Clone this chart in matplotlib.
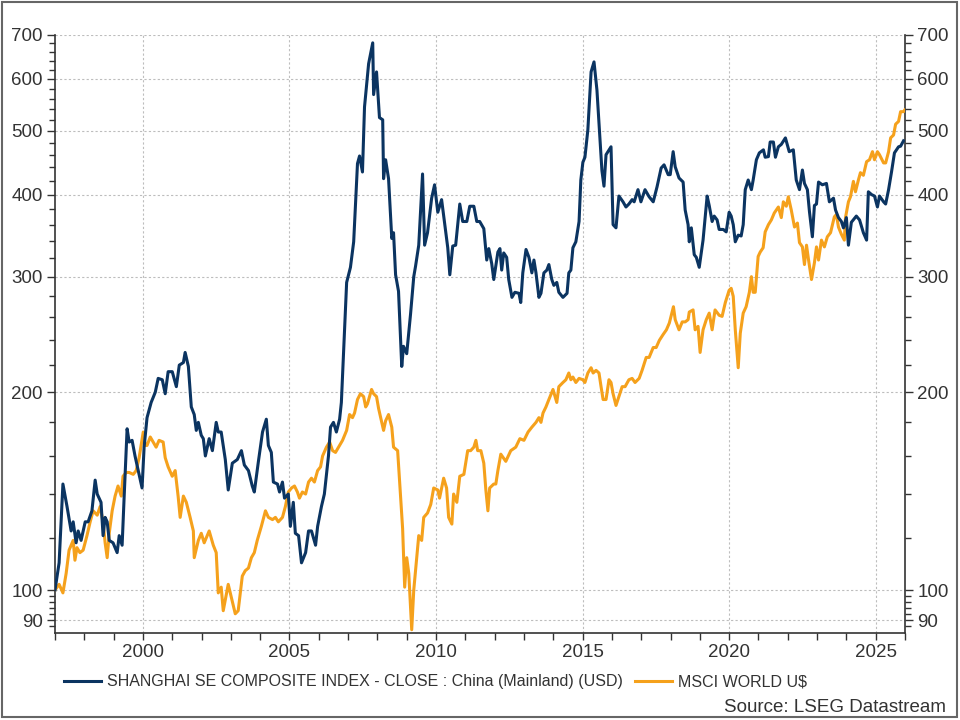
import matplotlib
matplotlib.use("Agg")
import matplotlib.pyplot as plt
from matplotlib.ticker import FixedLocator, FuncFormatter, NullFormatter, MultipleLocator
from matplotlib.patches import Rectangle

plt.rcParams['font.family'] = ['Liberation Sans', 'DejaVu Sans']

# Shanghai SE Composite (USD), rebased 100 = Jan 1997
sh_dates = [1997.00, 1997.14, 1997.27, 1997.41, 1997.55, 1997.62, 1997.72, 1997.79, 1997.89,
            1998.03, 1998.13, 1998.26, 1998.37, 1998.44, 1998.57, 1998.64, 1998.71, 1998.78, 1998.85, 1998.98,
            1999.12, 1999.19, 1999.29, 1999.36, 1999.46, 1999.53, 1999.63, 1999.73, 1999.84, 1999.97,
            2000.04, 2000.14, 2000.28, 2000.42, 2000.52, 2000.66, 2000.76, 2000.86,
            2001.00, 2001.14, 2001.24, 2001.38, 2001.44, 2001.55, 2001.65, 2001.75, 2001.82, 2001.89, 2001.99,
            2002.06, 2002.13, 2002.26, 2002.37, 2002.50, 2002.57, 2002.67, 2002.81, 2002.91,
            2003.05, 2003.22, 2003.36, 2003.46, 2003.60, 2003.73, 2003.80, 2003.94,
            2004.08, 2004.21, 2004.28, 2004.38, 2004.45, 2004.59, 2004.66, 2004.76, 2004.83, 2004.96,
            2005.03, 2005.13, 2005.20, 2005.31, 2005.41, 2005.55, 2005.65, 2005.75, 2005.89, 2005.96,
            2006.09, 2006.19, 2006.33, 2006.40, 2006.50, 2006.60, 2006.71, 2006.77, 2006.84, 2006.95,
            2007.08, 2007.19, 2007.32, 2007.39, 2007.49, 2007.56, 2007.70, 2007.84, 2007.87, 2007.97,
            2008.07, 2008.18, 2008.21, 2008.28, 2008.38, 2008.49, 2008.55, 2008.62, 2008.72, 2008.83, 2008.89,
            2009.00, 2009.13, 2009.24, 2009.30, 2009.41, 2009.54, 2009.61, 2009.71, 2009.85, 2009.95,
            2010.06, 2010.19, 2010.30, 2010.40, 2010.47, 2010.57, 2010.67, 2010.81, 2010.91,
            2011.05, 2011.15, 2011.29, 2011.39, 2011.49, 2011.63, 2011.73, 2011.80, 2011.90, 2011.97,
            2012.11, 2012.18, 2012.24, 2012.31, 2012.41, 2012.48, 2012.59, 2012.69, 2012.83, 2012.89, 2012.96,
            2013.07, 2013.17, 2013.27, 2013.34, 2013.41, 2013.51, 2013.58, 2013.68, 2013.78, 2013.85, 2013.95,
            2014.02, 2014.12, 2014.19, 2014.33, 2014.47, 2014.53, 2014.60, 2014.67, 2014.77, 2014.88, 2014.94,
            2015.01, 2015.08, 2015.18, 2015.29, 2015.39, 2015.49, 2015.56, 2015.66, 2015.73, 2015.80, 2015.97,
            2016.04, 2016.14, 2016.24, 2016.38, 2016.48, 2016.58, 2016.69, 2016.76, 2016.89, 2016.99,
            2017.13, 2017.27, 2017.41, 2017.54, 2017.68, 2017.78, 2017.92, 2017.99,
            2018.09, 2018.16, 2018.29, 2018.43, 2018.50, 2018.60, 2018.64, 2018.71, 2018.81, 2018.88, 2018.98,
            2019.11, 2019.25, 2019.32, 2019.42, 2019.49, 2019.59, 2019.66, 2019.80, 2019.90,
            2020.00, 2020.07, 2020.14, 2020.21, 2020.31, 2020.41, 2020.48, 2020.55, 2020.65, 2020.76, 2020.82, 2020.93,
            2021.03, 2021.17, 2021.23, 2021.34, 2021.40, 2021.51, 2021.58, 2021.68, 2021.78, 2021.92,
            2022.05, 2022.19, 2022.29, 2022.40, 2022.50, 2022.57, 2022.67, 2022.74, 2022.84, 2022.91, 2022.98,
            2023.05, 2023.18, 2023.32, 2023.42, 2023.56, 2023.63, 2023.73, 2023.83, 2023.90,
            2024.00, 2024.07, 2024.17, 2024.34, 2024.45, 2024.58, 2024.69, 2024.75, 2024.86, 2024.96,
            2025.06, 2025.13, 2025.27, 2025.34, 2025.44, 2025.54, 2025.64, 2025.78, 2025.85, 2025.95]
sh_vals = [100, 110, 145, 134, 123, 127, 118, 123, 119,
           127, 127, 132, 147, 140, 136, 121, 129, 127, 119, 118,
           114, 121, 117, 139, 176, 168, 169, 160, 152, 143,
           165, 183, 193, 200, 210, 209, 199, 215,
           215, 204, 220, 222, 230, 219, 190, 185, 175, 180, 172,
           170, 160, 170, 163, 180, 174, 174, 158, 142,
           156, 158, 163, 155, 152, 144, 141, 157,
           174, 182, 166, 162, 146, 145, 141, 146, 138, 140,
           125, 136, 122, 121, 110, 114, 123, 123, 117, 125,
           134, 140, 160, 177, 180, 174, 182, 193, 227, 294,
           310, 339, 446, 458, 433, 544, 633, 681, 568, 615,
           524, 520, 423, 452, 423, 343, 350, 302, 285, 219, 235,
           229, 263, 300, 311, 335, 430, 335, 350, 395, 414,
           376, 393, 360, 332, 302, 334, 335, 387, 364,
           364, 384, 384, 364, 364, 355, 318, 331, 314, 297,
           327, 331, 307, 326, 321, 297, 279, 284, 283, 274, 304,
           330, 321, 304, 318, 304, 279, 283, 304, 307, 313, 297,
           291, 294, 284, 279, 283, 304, 307, 332, 339, 364, 421,
           448, 456, 502, 615, 637, 577, 514, 435, 412, 460, 473,
           360, 356, 398, 390, 383, 387, 393, 390, 407, 390,
           407, 397, 390, 411, 439, 444, 429, 429,
           465, 441, 424, 418, 379, 360, 339, 356, 324, 321, 310,
           341, 398, 385, 364, 371, 366, 354, 354, 351,
           376, 371, 360, 339, 347, 346, 360, 407, 421, 407, 421, 452,
           463, 468, 456, 457, 481, 481, 456, 473, 477, 488,
           465, 468, 421, 407, 436, 416, 407, 377, 345, 385, 387,
           418, 414, 416, 390, 395, 379, 369, 364, 356,
           369, 335, 363, 371, 366, 350, 341, 404, 400, 398,
           383, 398, 390, 387, 407, 433, 463, 473, 474, 483]

# MSCI World U$, rebased 100 = Jan 1997
ms_dates = [1997.00, 1997.14, 1997.27, 1997.38, 1997.48, 1997.62, 1997.68, 1997.75, 1997.85, 1997.96,
            1998.09, 1998.20, 1998.30, 1998.44, 1998.54, 1998.64, 1998.71, 1998.78, 1998.85, 1998.95,
            1999.05, 1999.15, 1999.26, 1999.32, 1999.43, 1999.53, 1999.67, 1999.77, 1999.87,
            2000.01, 2000.08, 2000.14, 2000.25, 2000.35, 2000.45, 2000.55, 2000.69, 2000.76, 2000.86,
            2001.00, 2001.10, 2001.20, 2001.27, 2001.38, 2001.48, 2001.61, 2001.72, 2001.75, 2001.89, 2001.99,
            2002.09, 2002.26, 2002.40, 2002.50, 2002.57, 2002.67, 2002.74, 2002.91,
            2003.05, 2003.15, 2003.25, 2003.39, 2003.49, 2003.60, 2003.70, 2003.80, 2003.90,
            2004.04, 2004.18, 2004.28, 2004.42, 2004.52, 2004.62, 2004.76, 2004.86, 2004.96,
            2005.07, 2005.17, 2005.27, 2005.34, 2005.44, 2005.55, 2005.65, 2005.75, 2005.85, 2005.96,
            2006.06, 2006.13, 2006.26, 2006.37, 2006.47, 2006.57, 2006.71, 2006.81, 2006.95,
            2007.05, 2007.15, 2007.22, 2007.32, 2007.42, 2007.53, 2007.60, 2007.66, 2007.80, 2007.87, 2007.97,
            2008.04, 2008.11, 2008.21, 2008.28, 2008.38, 2008.49, 2008.55, 2008.69, 2008.76, 2008.86, 2008.93,
            2009.00, 2009.07, 2009.17, 2009.24, 2009.34, 2009.41, 2009.51, 2009.58, 2009.71, 2009.82, 2009.92,
            2010.06, 2010.12, 2010.26, 2010.36, 2010.43, 2010.54, 2010.60, 2010.71, 2010.81, 2010.95,
            2011.08, 2011.18, 2011.29, 2011.36, 2011.42, 2011.53, 2011.63, 2011.70, 2011.77, 2011.83, 2011.97,
            2012.04, 2012.11, 2012.21, 2012.38, 2012.55, 2012.72, 2012.86,
            2013.00, 2013.14, 2013.27, 2013.41, 2013.51, 2013.58, 2013.65, 2013.75, 2013.85, 2013.99,
            2014.12, 2014.19, 2014.33, 2014.43, 2014.53, 2014.60, 2014.67, 2014.77, 2014.88,
            2015.01, 2015.08, 2015.18, 2015.29, 2015.36, 2015.46, 2015.56, 2015.63, 2015.70, 2015.80, 2015.90, 2015.97,
            2016.04, 2016.14, 2016.24, 2016.35, 2016.45, 2016.58, 2016.69, 2016.79, 2016.93,
            2017.03, 2017.17, 2017.27, 2017.41, 2017.51, 2017.62, 2017.75, 2017.86, 2017.96,
            2018.10, 2018.16, 2018.29, 2018.40, 2018.50, 2018.60, 2018.64, 2018.77, 2018.84, 2018.94,
            2019.01, 2019.11, 2019.22, 2019.32, 2019.42, 2019.52, 2019.66, 2019.76, 2019.87,
            2020.00, 2020.07, 2020.14, 2020.21, 2020.31, 2020.38, 2020.48, 2020.58, 2020.69, 2020.76, 2020.82, 2020.89, 2020.99,
            2021.06, 2021.16, 2021.23, 2021.34, 2021.44, 2021.54, 2021.68, 2021.78, 2021.85, 2021.95,
            2022.02, 2022.12, 2022.23, 2022.33, 2022.40, 2022.50, 2022.57, 2022.64, 2022.71, 2022.81, 2022.91, 2022.98,
            2023.05, 2023.15, 2023.25, 2023.35, 2023.46, 2023.59, 2023.66, 2023.73, 2023.83, 2023.93, 2023.97,
            2024.07, 2024.14, 2024.24, 2024.31, 2024.41, 2024.48, 2024.58, 2024.69, 2024.79, 2024.89, 2024.96,
            2025.06, 2025.13, 2025.27, 2025.34, 2025.44, 2025.51, 2025.61, 2025.68, 2025.78, 2025.85, 2025.95, 2025.99]
ms_vals = [100, 102, 99, 106, 115, 119, 111, 116, 114, 115,
           121, 127, 132, 130, 134, 127, 118, 112, 122, 132,
           139, 144, 139, 149, 151, 151, 150, 152, 159,
           174, 166, 166, 171, 168, 165, 169, 168, 159, 154,
           149, 152, 139, 129, 139, 136, 129, 123, 112, 119, 122,
           118, 123, 117, 114, 99, 101, 93, 102,
           96, 92, 93, 105, 107, 108, 112, 114, 119,
           125, 132, 129, 128, 129, 127, 129, 134, 141,
           143, 144, 141, 138, 141, 140, 146, 148, 146, 152,
           154, 160, 165, 168, 163, 162, 166, 169, 175,
           185, 183, 186, 195, 199, 197, 190, 192, 202, 199, 197,
           189, 183, 175, 181, 185, 177, 165, 163, 146, 124, 101,
           112, 106, 87, 100, 112, 121, 119, 129, 131, 135, 143,
           142, 138, 148, 143, 129, 126, 140, 136, 149, 150,
           163, 163, 165, 169, 163, 163, 156, 142, 132, 143, 145,
           145, 152, 161, 157, 163, 165, 170,
           169, 174, 177, 180, 183, 180, 186, 190, 195, 202,
           193, 204, 207, 209, 214, 209, 211, 207, 210,
           209, 207, 214, 218, 214, 216, 214, 204, 195, 195, 209, 207,
           199, 191, 197, 204, 204, 209, 210, 207, 210,
           216, 226, 226, 234, 234, 240, 245, 249, 255,
           270, 258, 249, 256, 256, 258, 265, 267, 249, 252,
           230, 249, 258, 264, 249, 267, 262, 261, 274,
           286, 288, 280, 249, 218, 246, 264, 270, 284, 300, 284, 284, 322,
           327, 332, 351, 360, 366, 375, 383, 369, 390, 384,
           397, 379, 357, 362, 338, 333, 313, 335, 318, 297, 315, 333,
           318, 341, 333, 345, 350, 370, 373, 357, 348, 341, 369,
           390, 397, 419, 404, 421, 432, 428, 449, 452, 465, 452,
           465, 460, 447, 447, 465, 488, 493, 512, 517, 535, 535, 538]

y_major = [90, 100, 200, 300, 400, 500, 600, 700]
y_minor = [88, 92, 94, 96, 98, 120, 140, 160, 180, 220, 240, 260, 280,
           320, 340, 360, 380, 420, 440, 460, 480, 520, 540, 560, 580,
           620, 640, 660, 680]
x_major = [2000, 2005, 2010, 2015, 2020, 2025]

navy = '#0b3461'
orange = '#f5a11c'
txt = '#333333'

fig = plt.figure(figsize=(9.6, 7.2), dpi=100)
ax = fig.add_axes([0.0573, 0.1208, 0.8854, 0.8306])

l2, = ax.plot(ms_dates, ms_vals, color=orange, lw=2.2, label='MSCI WORLD U$', zorder=3)
l1, = ax.plot(sh_dates, sh_vals, color=navy, lw=2.2,
              label='SHANGHAI SE COMPOSITE INDEX - CLOSE : China (Mainland) (USD)', zorder=4)

ax.set_yscale('log')
ax.set_ylim(86, 700)
ax.set_xlim(1997, 2026)

ax.yaxis.set_major_locator(FixedLocator(y_major))
ax.yaxis.set_major_formatter(FuncFormatter(lambda v, p: f'{v:.0f}'))
ax.yaxis.set_minor_locator(FixedLocator(y_minor))
ax.yaxis.set_minor_formatter(NullFormatter())
ax.xaxis.set_major_locator(FixedLocator(x_major))
ax.xaxis.set_minor_locator(MultipleLocator(1))

ax.tick_params(axis='y', which='both', left=True, right=True, labelleft=True, labelright=True)
ax.tick_params(which='both', direction='out', colors=txt, width=1)
ax.tick_params(which='major', length=6, labelsize=13.5, pad=3)
ax.tick_params(which='minor', length=4)
ax.tick_params(axis='x', which='both', length=5)

ax.grid(True, which='major', color='#bdbdbd', lw=0.8, linestyle=(0, (2, 2)))
ax.spines['top'].set_visible(False)
for s in ['left', 'right', 'bottom']:
    ax.spines[s].set_color(txt)
    ax.spines[s].set_linewidth(1.2)

fig.legend(handles=[l1, l2], loc='center left', bbox_to_anchor=(0.052, 0.053), ncol=2,
           frameon=False, fontsize=11.5, handlelength=2.3, handletextpad=0.35,
           columnspacing=0.8, labelcolor=txt)

fig.text(0.985, 0.018, 'Source: LSEG Datastream', ha='right', va='center',
         fontsize=13.5, color=txt)

fig.add_artist(Rectangle((0.002, 0.004), 0.995, 0.993, transform=fig.transFigure,
                         fill=False, ec='#666666', lw=1.5))

fig.savefig('out.png', dpi=100)
